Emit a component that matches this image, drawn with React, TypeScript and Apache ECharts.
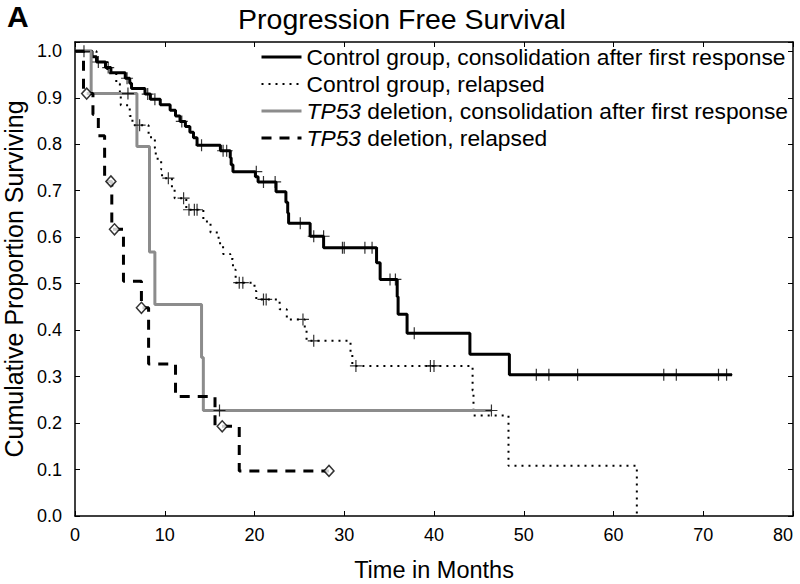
import React, { useEffect, useRef } from 'react';
import * as echarts from 'echarts';

const seriesNames = [
  'Control group, consolidation after first response',
  'Control group, relapsed',
  'TP53 deletion, consolidation after first response',
  'TP53 deletion, relapsed',
];

const xTicks = [0, 10, 20, 30, 40, 50, 60, 70, 80];

// Kaplan-Meier steps: [time in months, survival after step]
const ctrlConsol: [number, number][] = [
  [0, 1.0], [1.9, 0.988], [2.4, 0.977], [3.4, 0.965], [4.0, 0.954], [5.6, 0.942],
  [6.1, 0.931], [6.3, 0.92], [7.8, 0.908], [8.4, 0.897], [9.5, 0.885], [10.6, 0.873],
  [11.2, 0.861], [11.7, 0.849], [12.3, 0.838], [12.8, 0.826], [13.2, 0.814], [13.6, 0.798],
  [16.2, 0.786], [17.3, 0.771], [17.4, 0.756], [17.6, 0.741], [20.1, 0.73], [20.4, 0.719],
  [22.4, 0.698], [23.5, 0.675], [23.7, 0.652], [23.8, 0.63], [26.2, 0.602], [27.7, 0.577],
  [33.6, 0.545], [34.0, 0.509], [35.9, 0.472], [36.0, 0.434], [37.0, 0.393], [44.0, 0.348],
  [48.4, 0.304], [73.2, 0.304],
];
const ctrlConsolCensor: [number, number][] = [
  [2.6, 0.977], [3.7, 0.965], [5.8, 0.942], [8.1, 0.908], [8.9, 0.897], [11.9, 0.849],
  [14.1, 0.798], [16.5, 0.786], [16.9, 0.786], [20.2, 0.741], [21.0, 0.719], [22.3, 0.719],
  [25.1, 0.63], [26.6, 0.602], [27.7, 0.602], [29.8, 0.577], [30.0, 0.577], [32.3, 0.577],
  [33.1, 0.577], [35.1, 0.509], [35.7, 0.509], [37.8, 0.393], [51.4, 0.304], [52.8, 0.304],
  [56.0, 0.304], [65.6, 0.304], [67.0, 0.304], [71.7, 0.304], [72.6, 0.304],
];

const ctrlRelapse: [number, number][] = [
  [0, 1.0], [2.4, 0.977], [3.6, 0.953], [4.6, 0.93], [5.0, 0.907], [5.1, 0.884],
  [6.1, 0.861], [6.4, 0.841], [8.2, 0.815], [8.9, 0.792], [9.0, 0.769], [9.6, 0.746],
  [9.7, 0.727], [10.8, 0.705], [11.1, 0.684], [12.4, 0.659], [14.3, 0.634], [15.1, 0.61],
  [16.0, 0.587], [16.5, 0.564], [17.3, 0.553], [17.6, 0.53], [17.9, 0.502], [20.0, 0.484],
  [20.2, 0.466], [22.8, 0.445], [23.6, 0.423], [25.6, 0.4], [25.8, 0.377], [30.7, 0.35],
  [30.9, 0.323], [44.3, 0.27], [44.4, 0.216], [48.3, 0.108], [62.6, 0.0],
];
const ctrlRelapseCensor: [number, number][] = [
  [7.2, 0.841], [10.4, 0.727], [12.1, 0.684], [12.7, 0.659], [13.3, 0.659], [13.6, 0.659],
  [18.3, 0.502], [18.7, 0.502], [21.0, 0.466], [21.3, 0.466], [25.4, 0.423], [26.6, 0.377],
  [31.3, 0.323], [39.6, 0.323], [40.0, 0.323],
];

const tp53Consol: [number, number][] = [
  [0, 1.0], [1.8, 0.909], [6.9, 0.795], [8.3, 0.568], [8.9, 0.455], [14.1, 0.341],
  [14.3, 0.227], [46.4, 0.227],
];
const tp53ConsolCensor: [number, number][] = [
  [1.0, 1.0], [5.9, 0.909], [16.1, 0.227], [46.4, 0.227],
];

const tp53Relapse: [number, number][] = [
  [0, 1.0], [0.95, 0.909], [2.0, 0.864], [2.6, 0.818], [3.3, 0.72], [4.1, 0.617],
  [5.4, 0.505], [7.4, 0.448], [8.2, 0.327], [11.2, 0.257], [15.6, 0.193], [18.3, 0.097],
  [28.3, 0.097],
];
const tp53RelapseCensor: [number, number][] = [
  [1.3, 0.909], [4.0, 0.72], [4.4, 0.617], [7.4, 0.448], [16.4, 0.193], [28.3, 0.097],
];

const FONT = '"Liberation Sans", Arial, sans-serif';
const PLUS = 'path://M5,0 L5,10 M0,5 L10,5';

export default function App() {
  const ref = useRef<HTMLDivElement>(null);
  useEffect(() => {
    if (!ref.current) return;
    const chart = echarts.init(ref.current, undefined, { renderer: 'svg' });
    const lineBase = {
      type: 'line' as const,
      step: 'end' as const,
      symbol: 'none',
      showSymbol: false,
      silent: true,
      xAxisIndex: 0,
      yAxisIndex: 0,
    };
    const plusSeries = (data: [number, number][], z: number) => ({
      type: 'scatter' as const,
      data,
      symbol: PLUS,
      symbolSize: 12,
      itemStyle: { color: 'transparent', borderColor: '#000', borderWidth: 1.2 },
      z,
      silent: true,
    });
    chart.setOption({
      animation: false,
      backgroundColor: '#fff',
      textStyle: { fontFamily: FONT },
      title: {
        text: 'Progression Free Survival',
        left: 397,
        textAlign: 'center',
        top: -1,
        textStyle: { fontFamily: FONT, fontSize: 28.5, fontWeight: 'normal', color: '#000' },
      },
      graphic: [
        {
          type: 'text',
          left: 7,
          top: 1,
          style: { text: 'A', font: 'bold 30px "Liberation Sans", Arial, sans-serif', fill: '#000' },
        },
      ],
      legend: {
        orient: 'vertical',
        left: 255,
        top: 40,
        itemWidth: 40,
        itemHeight: 14,
        itemGap: 3,
        itemStyle: { color: 'transparent', borderColor: 'transparent', borderWidth: 0, opacity: 0 },
        lineStyle: { width: 3 },
        data: [
          { name: seriesNames[0] },
          { name: seriesNames[1], lineStyle: { width: 2 } },
          { name: seriesNames[2] },
          { name: seriesNames[3] },
        ],
        formatter: (name: string) =>
          name.startsWith('TP53') ? `{i|TP53}{n|${name.slice(4)}}` : `{n|${name}}`,
        textStyle: {
          color: '#000',
          fontFamily: FONT,
          fontSize: 22.8,
          lineHeight: 24,
          rich: {
            i: { fontStyle: 'italic', fontSize: 22.8, fontFamily: FONT, color: '#000' },
            n: { fontSize: 22.8, fontFamily: FONT, color: '#000' },
          },
        },
      },
      grid: { left: 75, right: 7, top: 42, bottom: 68, outerBoundsMode: 'none', containLabel: false },
      xAxis: [
        {
          type: 'value',
          min: 0,
          max: 80,
          interval: 10,
          name: 'Time in Months',
          nameLocation: 'middle',
          nameGap: 44,
          nameTextStyle: { fontFamily: FONT, fontSize: 23.5, lineHeight: 20, color: '#000' },
          axisLine: { show: true, onZero: false, lineStyle: { color: '#000', width: 1.5 } },
          axisTick: { show: true, inside: true, length: 5, lineStyle: { color: '#000' } },
          axisLabel: {
            margin: 10,
            fontFamily: FONT,
            fontSize: 18,
            color: '#000',
            alignMaxLabel: 'right',
            formatter: (v: number) => (xTicks.includes(v) ? String(v) : ''),
          },
          splitLine: { show: false },
        },
        {
          type: 'value',
          position: 'top',
          min: 0,
          max: 80,
          interval: 10,
          axisLine: { show: true, onZero: false, lineStyle: { color: '#000', width: 1.5 } },
          axisTick: { show: true, inside: true, length: 5, lineStyle: { color: '#000' } },
          axisLabel: { show: false },
          splitLine: { show: false },
        },
      ],
      yAxis: [
        {
          type: 'value',
          min: 0,
          max: 1.02,
          interval: 0.1,
          name: 'Cumulative Proportion Surviving',
          nameLocation: 'middle',
          nameGap: 43,
          nameTextStyle: { fontFamily: FONT, fontSize: 25, color: '#000' },
          axisLine: { show: true, onZero: false, lineStyle: { color: '#000', width: 1.5 } },
          axisTick: { show: true, inside: true, length: 5, lineStyle: { color: '#000' } },
          axisLabel: {
            margin: 13,
            fontFamily: FONT,
            fontSize: 18,
            color: '#000',
            formatter: (v: number) => (v > 1.001 ? '' : v.toFixed(1)),
          },
          splitLine: { show: false },
        },
        {
          type: 'value',
          position: 'right',
          min: 0,
          max: 1.02,
          interval: 0.1,
          axisLine: { show: true, onZero: false, lineStyle: { color: '#000', width: 1.5 } },
          axisTick: { show: true, inside: true, length: 5, lineStyle: { color: '#000' } },
          axisLabel: { show: false },
          splitLine: { show: false },
        },
      ],
      series: [
        {
          ...lineBase,
          name: seriesNames[0],
          data: ctrlConsol,
          color: '#000',
          lineStyle: { color: '#000', width: 3 },
          z: 3,
        },
        {
          ...lineBase,
          name: seriesNames[1],
          data: ctrlRelapse,
          color: '#000',
          lineStyle: { color: '#000', width: 2, type: [2, 5], cap: 'butt' },
          z: 3,
        },
        {
          ...lineBase,
          name: seriesNames[2],
          data: tp53Consol,
          color: '#8c8c8c',
          lineStyle: { color: '#8c8c8c', width: 3 },
          z: 4,
        },
        {
          ...lineBase,
          name: seriesNames[3],
          data: tp53Relapse,
          color: '#000',
          lineStyle: { color: '#000', width: 3, type: [10, 8], cap: 'butt' },
          z: 4,
        },
        plusSeries(ctrlConsolCensor, 6),
        plusSeries(ctrlRelapseCensor, 6),
        plusSeries(tp53ConsolCensor, 6),
        {
          type: 'scatter',
          data: tp53RelapseCensor,
          symbol: 'diamond',
          symbolSize: [10, 11],
          itemStyle: { color: '#fff', borderColor: '#000', borderWidth: 1.5 },
          z: 7,
          silent: true,
        },
      ],
    });
    return () => chart.dispose();
  }, []);
  return <div ref={ref} style={{ width: 800, height: 584, position: 'absolute', left: 0, top: 0 }} />;
}
